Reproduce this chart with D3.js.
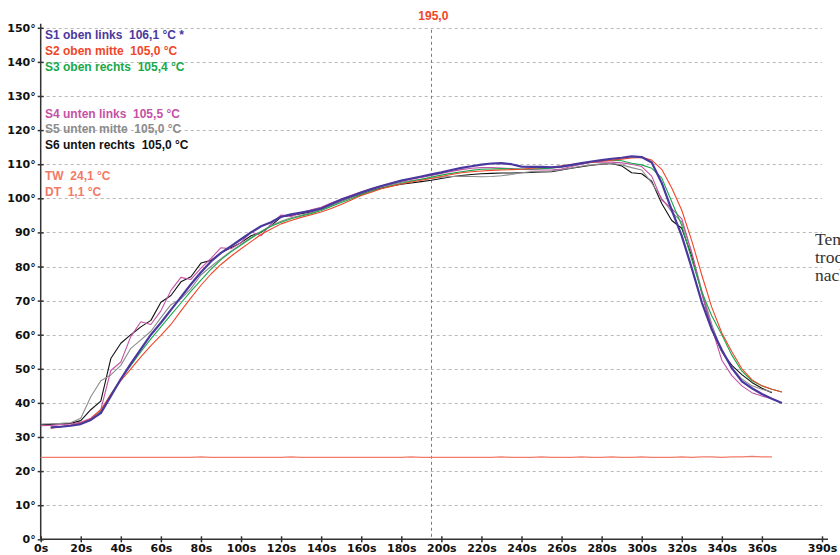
<!DOCTYPE html>
<html>
<head>
<meta charset="utf-8">
<script src="https://cdn.jsdelivr.net/npm/d3@7"></script>
<style>
  body { margin: 0; background: #fff; overflow: hidden; }
  .chart text { font-family: "Liberation Sans", Arial, sans-serif; font-weight: bold; font-size: 12px; }
  .axis text { font-family: "DejaVu Sans", sans-serif; font-size: 11px; }
  .grid line { stroke: #b8b8b8; stroke-dasharray: 3,3; }
  .axis path, .axis line { stroke: #333; stroke-width: 1.5; }
  .chart text.note { font-family: "Liberation Serif", "Times New Roman", serif; font-weight: normal; font-size: 17.5px; fill: #333; }
</style>
</head>
<body>
<svg class="chart"></svg>
<script>
// time in seconds, one value every 5s
var secs = d3.range(0, 371, 5);

var s1 = [null, 32.8, 33.0, 33.3, 33.8, 35.0, 37.0, 42.0, 47.0, 51.5, 55.8, 60.0, 63.5, 67.3, 71.0, 74.8, 78.3, 81.5, 84.0, 86.0,
  88.0, 90.0, 91.8, 93.0, 94.6, 95.3, 95.8, 96.3, 97.0, 98.3, 99.6, 100.6, 101.7, 102.7, 103.6, 104.4, 105.2, 105.8, 106.4, 107.0,
  107.6, 108.3, 108.9, 109.4, 109.9, 110.2, 110.3, 110.0, 109.3, 109.2, 109.2, 109.1, 109.3, 109.8, 110.3, 110.8, 111.2, 111.6, 111.9, 112.3,
  112.1, 110.5, 104.5, 96.5, 89.0, 79.5, 69.5, 61.5, 55.5, 50.2, 46.3, 44.3, 42.6, 41.2, 40.0];

var s2 = [null, 32.6, 33.0, 33.4, 34.0, 35.3, 38.0, 42.5, 46.5, 50.0, 53.5, 56.8, 59.8, 63.0, 67.0, 70.8, 74.5, 77.8, 80.6, 83.0,
  85.2, 87.3, 89.4, 91.0, 92.5, 93.5, 94.4, 95.2, 96.0, 97.0, 98.2, 99.5, 100.8, 101.8, 102.8, 103.5, 104.2, 104.8, 105.3, 105.8,
  106.4, 107.0, 107.5, 107.8, 108.0, 108.2, 108.3, 108.4, 108.5, 108.8, 109.0, 109.2, 109.5, 109.9, 110.3, 110.6, 110.9, 111.2, 111.5, 111.8,
  112.0, 111.2, 108.5, 103.0, 96.5, 87.5, 77.5, 68.0, 60.5, 55.0, 50.0, 46.8, 45.0, 44.0, 43.2];

var s3 = [null, 32.8, 33.0, 33.4, 33.9, 35.0, 37.5, 42.5, 47.0, 51.0, 55.0, 58.8, 62.3, 65.8, 69.3, 72.8, 76.0, 79.2, 82.0, 84.3,
  86.3, 88.3, 90.2, 91.8, 93.0, 94.0, 94.8, 95.5, 96.4, 97.6, 98.8, 99.9, 101.0, 102.0, 102.9, 103.7, 104.4, 105.0, 105.6, 106.2,
  106.8, 107.3, 107.8, 108.2, 108.5, 108.6, 108.7, 108.6, 108.6, 108.6, 108.7, 108.8, 109.2, 109.7, 110.2, 110.6, 111.0, 111.2, 111.0, 110.3,
  109.8, 108.8, 106.0, 99.0, 92.0, 82.0, 72.5, 65.5, 60.0, 54.0, 49.3, 46.5, 45.0, 44.0, 43.2];

var s4 = [33.3, 33.4, 33.6, 33.8, 34.3, 35.5, 38.0, 49.5, 52.0, 59.5, 63.8, 63.0, 67.0, 73.0, 76.8, 76.2, 79.5, 82.4, 85.5, 85.2,
  87.0, 90.2, 89.0, 92.5, 95.1, 94.7, 95.8, 96.6, 97.4, 98.6, 99.8, 100.9, 101.9, 102.8, 103.6, 104.3, 105.0, 105.6, 106.1, 106.7,
  107.3, 107.9, 108.4, 108.8, 109.0, 109.0, 108.9, 108.7, 108.5, 108.4, 108.3, 108.3, 108.6, 109.3, 110.0, 110.5, 110.6, 110.6, 110.4, 110.0,
  109.3, 106.5, 99.5, 97.0, 94.0, 84.0, 72.0, 62.0, 52.5, 48.0, 45.0, 43.0, 42.0, 41.2, null];

var s5 = [33.8, 33.9, 34.0, 34.2, 35.5, 41.8, 46.5, 48.2, 51.0, 56.0, 58.5, 61.0, 65.0, 68.8, 70.5, 73.5, 77.5, 80.0, 82.3, 84.5,
  86.5, 88.5, 90.3, 92.0, 93.3, 94.3, 95.0, 95.8, 96.8, 98.0, 99.2, 100.3, 101.4, 102.4, 103.3, 104.0, 104.7, 105.2, 105.6, 105.9,
  106.2, 106.4, 106.5, 106.4, 106.3, 106.4, 106.6, 107.0, 107.5, 107.8, 107.8, 108.0, 108.4, 108.9, 109.4, 109.8, 110.1, 110.2, 109.8, 109.0,
  108.3, 104.5, 100.0, 96.0, 93.0, 84.0, 73.0, 63.0, 55.0, 50.3, 47.0, 45.0, 44.0, 43.2, null];

var s6 = [33.6, 33.7, 33.9, 34.0, 34.8, 38.0, 40.5, 53.0, 57.5, 60.0, 62.3, 64.2, 69.5, 71.5, 75.5, 77.0, 81.0, 81.8, 84.0, 85.5,
  87.0, 89.0, 90.0, 92.0, 94.5, 95.0, 95.5, 96.0, 96.8, 98.0, 99.2, 100.3, 101.3, 102.3, 103.0, 103.6, 104.1, 104.5, 104.9, 105.3,
  105.8, 106.3, 106.7, 107.0, 107.2, 107.3, 107.4, 107.4, 107.5, 107.6, 107.7, 107.8, 108.3, 108.8, 109.3, 109.7, 110.0, 110.2, 109.5, 107.5,
  107.2, 105.0, 98.5, 93.5, 91.2, 83.0, 72.5, 61.5, 55.0, 51.0, 48.3, 46.0, 44.3, 43.0, null];

var tw = [24.0, 24.0, 24.0, 24.0, 24.0, 24.0, 24.0, 24.0, 24.0, 24.0, 24.0, 24.0, 24.0, 24.0, 24.0, 24.0, 24.2, 24.0, 24.0, 24.0,
  24.0, 24.0, 24.0, 24.0, 24.0, 24.2, 24.0, 24.0, 24.0, 24.0, 24.0, 24.0, 24.0, 24.0, 24.0, 24.0, 24.0, 24.2, 24.0, 24.0,
  24.0, 24.0, 24.0, 24.0, 24.0, 24.0, 24.2, 24.0, 24.0, 24.0, 24.2, 24.0, 24.0, 24.0, 24.2, 24.0, 24.0, 24.2, 24.0, 24.0,
  24.2, 24.0, 24.0, 24.0, 24.2, 24.0, 24.2, 24.2, 24.0, 24.2, 24.2, 24.3, 24.2, 24.2, null];

var seriesNames = ['S1 oben links', 'S2 oben mitte', 'S3 oben rechts', 'S4 unten links', 'S5 unten mitte', 'S6 unten rechts'];
var seriesValues = ['106,1 °C *', '105,0 °C', '105,4 °C', '105,5 °C', '105,0 °C', '105,0 °C'];
var seriesColors = ['#4a389e', '#f04628', '#18a84a', '#c452a6', '#8c8c8c', '#111111'];
var extraLabels = ['TW  24,1 °C', 'DT  1,1 °C'];

var xTicks = [0, 20, 40, 60, 80, 100, 120, 140, 160, 180, 200, 220, 240, 260, 280, 300, 320, 340, 360, 390];
var yTicks = [0, 10, 20, 30, 40, 50, 60, 70, 80, 90, 100, 110, 120, 130, 140, 150];
var cursorTime = 195;

var width = 840, height = 555;

var chart = d3.select('.chart')
  .attr('width', width)
  .attr('height', height);

var x = d3.scaleLinear().domain([0, 390]).range([40.7, 822]),
    y = d3.scaleLinear().domain([0, 150]).range([539.3, 27.8]);

// gridlines
chart.append('g')
  .attr('class', 'grid')
  .selectAll('line')
  .data(yTicks.slice(1))
  .enter().append('line')
    .attr('x1', x(0))
    .attr('x2', x(390))
    .attr('y1', function(d) { return Math.round(y(d)) + 0.5; })
    .attr('y2', function(d) { return Math.round(y(d)) + 0.5; });

// cursor line at 195s
chart.append('line')
  .attr('x1', Math.round(x(cursorTime)) + 0.5)
  .attr('x2', Math.round(x(cursorTime)) + 0.5)
  .attr('y1', y(150) + 2)
  .attr('y2', y(0))
  .attr('stroke', '#d9534a')
  .attr('stroke-dasharray', '3,3');

chart.append('text')
  .attr('x', x(cursorTime) + 2)
  .attr('y', 20)
  .attr('text-anchor', 'middle')
  .attr('fill', '#f04628')
  .text('195,0');

// axes
var xAxis = d3.axisBottom(x).tickValues(xTicks).tickSize(4).tickSizeOuter(0)
  .tickFormat(function(d) { return d + 's'; });
var yAxis = d3.axisLeft(y).tickValues(yTicks).tickSize(4).tickSizeOuter(0)
  .tickFormat(function(d) { return d + '°'; });

var gx = chart.append('g')
  .attr('class', 'axis')
  .attr('transform', 'translate(0,' + y(0) + ')')
  .call(xAxis);
gx.select('.domain').attr('d', 'M' + x(0) + ',0H828');
gx.selectAll('.tick line').attr('y1', -3).attr('y2', 3);
gx.selectAll('.tick text').attr('y', 5).attr('dy', '0.71em').attr('fill', '#111');

var gy = chart.append('g')
  .attr('class', 'axis')
  .attr('transform', 'translate(' + x(0) + ',0)')
  .call(yAxis);
gy.select('.domain').attr('d', 'M0,' + y(0) + 'V' + (y(150) - 4));
gy.selectAll('.tick line').attr('x1', -3).attr('x2', 3);
gy.selectAll('.tick text').attr('x', -5).attr('fill', '#111');

// lines
var line = d3.line()
  .defined(function(d) { return d[1] != null; })
  .x(function(d) { return x(d[0]); })
  .y(function(d) { return y(d[1]); });

function pairs(vals) {
  return secs.map(function(t, i) { return [t, vals[i]]; });
}

chart.append('path')
  .datum(pairs(tw))
  .attr('d', line)
  .attr('fill', 'none')
  .attr('stroke', '#f27a68')
  .attr('stroke-width', 1.2);

var all = [s1, s2, s3, s4, s5, s6];
var order = [5, 4, 3, 2, 1, 0];   // S1 on top
order.forEach(function(i) {
  chart.append('path')
    .datum(pairs(all[i]))
    .attr('d', line)
    .attr('fill', 'none')
    .attr('stroke', seriesColors[i])
    .attr('stroke-width', i == 0 ? 2.2 : 1.1)
    .attr('stroke-linejoin', 'round');
});

// legend
var legendY = [39, 55, 71, 118, 133, 149];
chart.selectAll('.legend')
  .data(seriesNames)
  .enter().append('text')
    .attr('class', 'legend')
    .attr('x', 45)
    .attr('y', function(d, i) { return legendY[i]; })
    .attr('fill', function(d, i) { return seriesColors[i]; })
    .attr('xml:space', 'preserve')
    .text(function(d, i) { return d + '  ' + seriesValues[i]; });

chart.selectAll('.extra')
  .data(extraLabels)
  .enter().append('text')
    .attr('class', 'extra')
    .attr('x', 45)
    .attr('y', function(d, i) { return 180 + i * 15.5; })
    .attr('fill', '#f27a68')
    .attr('xml:space', 'preserve')
    .text(function(d) { return d; });

// text of the page beside the chart, cut by the window as in the screenshot
['Temperatur', 'trocken', 'nach'].forEach(function(t, i) {
  chart.append('text')
    .attr('class', 'note')
    .attr('x', 815)
    .attr('y', 245 + i * 18)
    .text(t);
});
</script>
</body>
</html>
